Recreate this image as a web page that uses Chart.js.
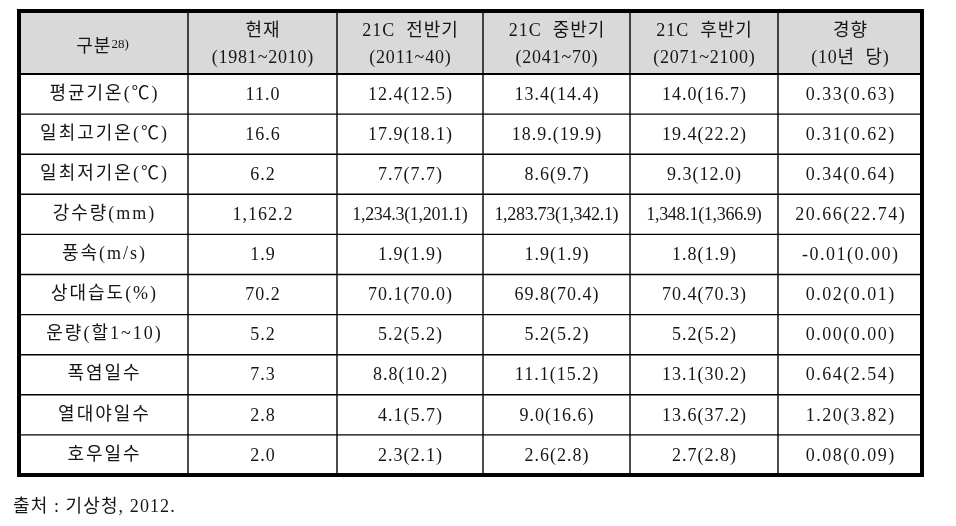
<!DOCTYPE html>
<html>
<head>
<meta charset="utf-8">
<style>
html,body{margin:0;padding:0;background:#ffffff;}
#wrap{width:956px;height:526px;position:relative;}
canvas{display:block;}
</style>
<script src="https://cdn.jsdelivr.net/npm/chart.js@4/dist/chart.umd.min.js"></script>
</head>
<body>
<div id="wrap"><canvas id="c" width="956" height="526"></canvas></div>
<script>
// ---- data ----
const headerTop = ["구분", "현재", "21C  전반기", "21C  중반기", "21C  후반기", "경향"];
const headerBottom = ["", "(1981~2010)", "(2011~40)", "(2041~70)", "(2071~2100)", "(10년  당)"];
const headerNote = "28)";
const rowLabels = ["평균기온(℃)", "일최고기온(℃)", "일최저기온(℃)", "강수량(mm)", "풍속(m/s)", "상대습도(%)", "운량(할1~10)", "폭염일수", "열대야일수", "호우일수"];
const present = ["11.0", "16.6", "6.2", "1,162.2", "1.9", "70.2", "5.2", "7.3", "2.8", "2.0"];
const early21 = ["12.4(12.5)", "17.9(18.1)", "7.7(7.7)", "1,234.3(1,201.1)", "1.9(1.9)", "70.1(70.0)", "5.2(5.2)", "8.8(10.2)", "4.1(5.7)", "2.3(2.1)"];
const mid21 = ["13.4(14.4)", "18.9.(19.9)", "8.6(9.7)", "1,283.73(1,342.1)", "1.9(1.9)", "69.8(70.4)", "5.2(5.2)", "11.1(15.2)", "9.0(16.6)", "2.6(2.8)"];
const late21 = ["14.0(16.7)", "19.4(22.2)", "9.3(12.0)", "1,348.1(1,366.9)", "1.8(1.9)", "70.4(70.3)", "5.2(5.2)", "13.1(30.2)", "13.6(37.2)", "2.7(2.8)"];
const trend = ["0.33(0.63)", "0.31(0.62)", "0.34(0.64)", "20.66(22.74)", "-0.01(0.00)", "0.02(0.01)", "0.00(0.00)", "0.64(2.54)", "1.20(3.82)", "0.08(0.09)"];
const sourceNote = "출처 : 기상청, 2012.";

// ---- layout (not data) ----
const colWidths = [169, 149, 146, 147, 148, 144];
const headerSpan = 1.571;
const colEdges = colWidths.reduce((a, w) => { a.push(a[a.length - 1] + w); return a; }, [0]);
const colCenters = colWidths.map((w, i) => colEdges[i] + w / 2);
const columns = [rowLabels, present, early21, mid21, late21, trend];

const SERIF = '"Liberation Serif", "Noto Sans CJK KR", serif';
const KR = '"Liberation Serif", "Noto Sans CJK KR", sans-serif';

function drawSpaced(ctx, text, x, y, spacing) {
  ctx.letterSpacing = spacing + 'px';
  ctx.textAlign = 'center';
  ctx.fillText(text, x + spacing / 2, y);
  ctx.letterSpacing = '0px';
}

const tablePlugin = {
  id: 'tablePlugin',
  beforeDatasetsDraw(chart) {
    const { ctx, scales: { x, y } } = chart;
    ctx.save();
    ctx.fillStyle = '#d9d9d9';
    const x0 = x.getPixelForValue(colEdges[0]);
    const x1 = x.getPixelForValue(colEdges[colEdges.length - 1]);
    const y0 = y.getPixelForValue(-headerSpan);
    const y1 = y.getPixelForValue(0);
    ctx.fillRect(x0, y0, x1 - x0, y1 - y0);
    ctx.restore();
  },
  afterDatasetsDraw(chart) {
    const { ctx, scales: { x, y } } = chart;
    const x0 = x.getPixelForValue(colEdges[0]);
    const x1 = x.getPixelForValue(colEdges[colEdges.length - 1]);
    const yTop = y.getPixelForValue(-headerSpan);
    const yBot = y.getPixelForValue(rowLabels.length);
    ctx.save();
    ctx.strokeStyle = '#000';
    ctx.lineWidth = 1.4;
    for (let r = 1; r < rowLabels.length; r++) {
      const py = y.getPixelForValue(r);
      ctx.beginPath(); ctx.moveTo(x0, py); ctx.lineTo(x1, py); ctx.stroke();
    }
    for (let c = 1; c < colEdges.length - 1; c++) {
      const px = x.getPixelForValue(colEdges[c]);
      ctx.beginPath(); ctx.moveTo(px, yTop); ctx.lineTo(px, yBot); ctx.stroke();
    }
    ctx.lineWidth = 2.2;
    const hy = y.getPixelForValue(0);
    ctx.beginPath(); ctx.moveTo(x0, hy); ctx.lineTo(x1, hy); ctx.stroke();
    ctx.lineWidth = 4;
    ctx.strokeRect(x0, yTop, x1 - x0, yBot - yTop);

    ctx.fillStyle = '#161616';
    ctx.textBaseline = 'middle';
    const hc = (y.getPixelForValue(-headerSpan) + y.getPixelForValue(0)) / 2;
    for (let c = 0; c < headerTop.length; c++) {
      const cx = x.getPixelForValue(colCenters[c]);
      if (c === 0) {
        ctx.font = '18px ' + KR;
        ctx.letterSpacing = '1px';
        const w1 = ctx.measureText(headerTop[c]).width;
        ctx.font = '13px ' + SERIF;
        ctx.letterSpacing = '0px';
        const w2 = ctx.measureText(headerNote).width;
        const sx = cx - (w1 + w2) / 2 - 1;
        ctx.textAlign = 'left';
        ctx.font = '18px ' + KR;
        ctx.letterSpacing = '1px';
        ctx.fillText(headerTop[c], sx, hc + 5);
        ctx.letterSpacing = '0px';
        ctx.font = '13px ' + SERIF;
        ctx.fillText(headerNote, sx + w1, hc + 2);
      } else {
        ctx.font = '18px ' + KR;
        drawSpaced(ctx, headerTop[c], cx, hc - 11, 1);
        ctx.font = '18px ' + SERIF;
        drawSpaced(ctx, headerBottom[c], cx, hc + 16, 0.8);
      }
    }
    chart.data.datasets.forEach((ds, di) => {
      const meta = chart.getDatasetMeta(di);
      meta.data.forEach((pt, i) => {
        const txt = ds.data[i].label;
        if (di === 0) {
          ctx.font = '18px ' + KR;
          drawSpaced(ctx, txt, pt.x, pt.y, 2);
        } else {
          ctx.font = '18px ' + SERIF;
          let sp = txt.length > 12 ? -0.3 : 1;
          if (di === 5 && txt.length <= 12) sp = 1.5;
          drawSpaced(ctx, txt, pt.x, pt.y + 1, sp);
        }
      });
    });
    ctx.font = '18px ' + KR;
    ctx.textAlign = 'left';
    ctx.letterSpacing = '1.1px';
    ctx.fillText(sourceNote, 13, y.getPixelForValue(rowLabels.length) + 32);
    ctx.letterSpacing = '0px';
    ctx.restore();
  }
};

new Chart(document.getElementById('c'), {
  type: 'scatter',
  data: {
    datasets: columns.map((col, c) => ({
      label: headerTop[c],
      data: col.map((v, i) => ({ x: colCenters[c], y: i + 0.5, label: v })),
      pointRadius: 0,
      pointHoverRadius: 0,
      showLine: false
    }))
  },
  options: {
    responsive: false,
    animation: false,
    events: [],
    layout: { padding: { left: 19, top: 11, right: 34, bottom: 51 } },
    plugins: { legend: { display: false }, tooltip: { enabled: false }, title: { display: false } },
    scales: {
      x: { type: 'linear', display: false, min: 0, max: colEdges[colEdges.length - 1] },
      y: { type: 'linear', display: false, reverse: true, min: -headerSpan, max: rowLabels.length }
    }
  },
  plugins: [tablePlugin]
});
</script>
</body>
</html>
